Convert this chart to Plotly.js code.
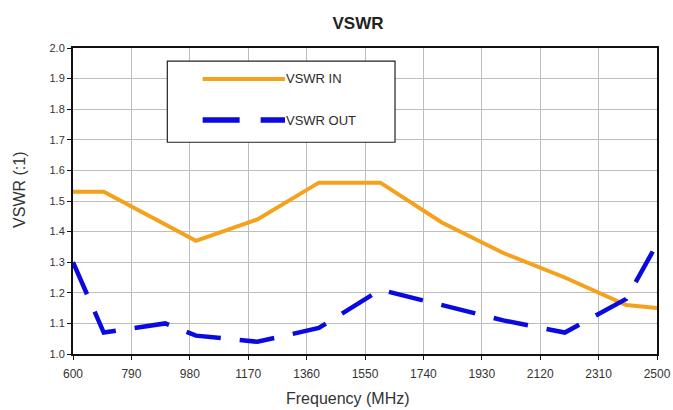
<!DOCTYPE html>
<html>
<head>
<meta charset="utf-8">
<script src="https://cdn.plot.ly/plotly-3.0.1.min.js"></script>
<style>html,body{margin:0;padding:0;background:#fff;}#chart{width:673px;height:410px;}</style>
</head>
<body>
<div id="chart"></div>
<script>
// Data
const freqIn  = [600, 700, 1000, 1200, 1400, 1600, 1800, 2000, 2200, 2400, 2500];
const vswrIn  = [1.53, 1.53, 1.37, 1.44, 1.56, 1.56, 1.43, 1.33, 1.25, 1.16, 1.15];
const freqOut = [600, 700, 900, 1000, 1200, 1400, 1600, 1800, 2000, 2200, 2400, 2500];
const vswrOut = [1.30, 1.07, 1.10, 1.06, 1.04, 1.085, 1.21, 1.16, 1.11, 1.07, 1.18, 1.36];
const xTicks  = [600, 790, 980, 1170, 1360, 1550, 1740, 1930, 2120, 2310, 2500];
const yTicks  = [1.0, 1.1, 1.2, 1.3, 1.4, 1.5, 1.6, 1.7, 1.8, 1.9, 2.0];
const seriesNames = ['VSWR IN', 'VSWR OUT'];
const xTitle = 'Frequency (MHz)';
const yTitle = 'VSWR (:1)';

const FONT = 'Liberation Sans, Arial, sans-serif';
const orange = '#F5A11C';
const blue = '#0A0AE0';

const traces = [
  {x: freqIn, y: vswrIn, name: seriesNames[0], mode: 'lines',
   line: {color: orange, width: 4}},
  {x: freqOut, y: vswrOut, name: seriesNames[1], mode: 'lines',
   line: {color: blue, width: 4.5, dash: '35px,19px'}}
];

const layout = {
  width: 673, height: 410,
  margin: {l: 73, r: 16, t: 48, b: 56},
  paper_bgcolor: '#fff', plot_bgcolor: '#fff',
  showlegend: false,
  font: {family: FONT, color: '#333', size: 11},
  title: {text: '<b>VSWR</b>', x: 358/673, xanchor: 'center', y: 0.945, yanchor: 'middle',
          font: {family: FONT, size: 17, color: '#222'}},
  xaxis: {
    range: [600, 2500], tickmode: 'array', tickvals: xTicks,
    ticktext: xTicks.map(String),
    showgrid: true, gridcolor: '#bdbdbd', gridwidth: 1,
    showline: true, linecolor: '#111', linewidth: 2, mirror: true,
    ticks: 'outside', ticklen: 4, tickcolor: '#111', tickwidth: 1,
    ticklabelstandoff: 4,
    zeroline: false, tickfont: {size: 12, color: '#333'}
  },
  yaxis: {
    range: [1.0, 2.0], tickmode: 'array', tickvals: yTicks,
    ticktext: yTicks.map(v => v.toFixed(1)),
    showgrid: true, gridcolor: '#bdbdbd', gridwidth: 1,
    showline: true, linecolor: '#111', linewidth: 2, mirror: true,
    ticks: 'outside', ticklen: 4, tickcolor: '#111', tickwidth: 1,
    zeroline: false, tickfont: {size: 11, color: '#333'}
  },
  shapes: [
    {type: 'rect', xref: 'paper', yref: 'paper', x0: 0.1615, x1: 0.5514, y0: 0.692, y1: 0.957,
     line: {color: '#222', width: 1.2}, fillcolor: '#fff', layer: 'above'},
    {type: 'line', xref: 'paper', yref: 'paper', x0: 0.222, x1: 0.363, y0: 0.8987, y1: 0.8987,
     line: {color: orange, width: 4}, layer: 'above'},
    {type: 'line', xref: 'paper', yref: 'paper', x0: 0.222, x1: 0.363, y0: 0.7647, y1: 0.7647,
     line: {color: blue, width: 5.5, dash: '37px,21px'}, layer: 'above'}
  ],
  annotations: [
    {xref: 'paper', yref: 'paper', x: 0.361, y: 0.8987, xanchor: 'left', yanchor: 'middle',
     text: seriesNames[0], showarrow: false, font: {size: 13, color: '#2a2a2a'}},
    {xref: 'paper', yref: 'paper', x: 0.361, y: 0.7647, xanchor: 'left', yanchor: 'middle',
     text: seriesNames[1], showarrow: false, font: {size: 13, color: '#2a2a2a'}},
    {xref: 'paper', yref: 'paper', x: 0.471, y: -0.1438, xanchor: 'center', yanchor: 'middle',
     text: xTitle, showarrow: false, font: {size: 16, color: '#333'}},
    {xref: 'paper', yref: 'paper', x: -0.0908, y: 0.536, xanchor: 'center', yanchor: 'middle',
     text: yTitle, textangle: -90, showarrow: false, font: {size: 16, color: '#333'}}
  ]
};

Plotly.newPlot('chart', traces, layout, {staticPlot: true, displayModeBar: false});
</script>
</body>
</html>
